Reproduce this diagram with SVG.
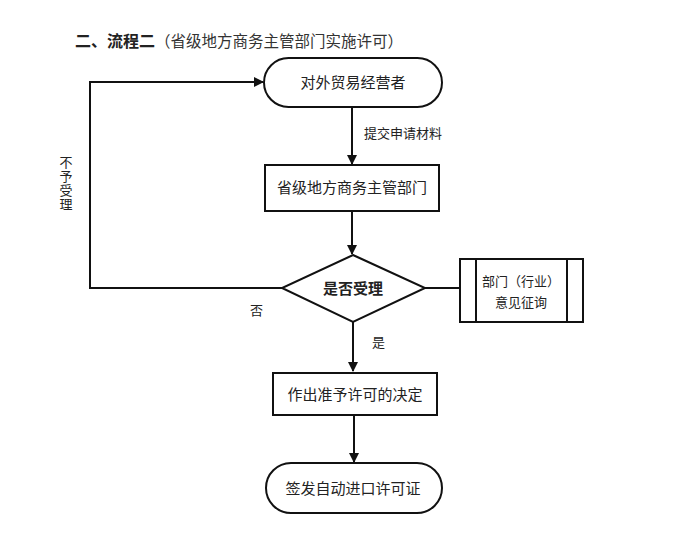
<svg xmlns="http://www.w3.org/2000/svg" width="700" height="540" viewBox="0 0 700 540">
<style>
text{font-family:"Noto Sans CJK SC","Liberation Sans",sans-serif;fill:#222;}
.n{font-size:15px;text-anchor:middle;}
.s{font-size:13px;}
.shape{fill:#fff;stroke:#111;stroke-width:2;}
.line{fill:none;stroke:#111;stroke-width:2;}
</style>
<defs>
<marker id="ah" markerWidth="10" markerHeight="10" refX="9" refY="5" orient="auto" markerUnits="userSpaceOnUse">
<path d="M0,0 L10,5 L0,10 Z" fill="#111"/>
</marker>
</defs>
<rect width="700" height="540" fill="#fff"/>
<text x="75" y="47"><tspan font-weight="bold" style="font-size:16px">二、流程二</tspan><tspan fill="#333" style="font-size:15.5px">（省级地方商务主管部门实施许可）</tspan></text>
<g id="connectors">
<line class="line" x1="352" y1="107" x2="352" y2="164" marker-end="url(#ah)"/>
<line class="line" x1="352" y1="211" x2="352" y2="254" marker-end="url(#ah)"/>
<line class="line" x1="353" y1="322" x2="353" y2="371" marker-end="url(#ah)"/>
<line class="line" x1="354" y1="415" x2="354" y2="462" marker-end="url(#ah)"/>
<polyline class="line" points="282,288 90,288 90,82 263,82" marker-end="url(#ah)"/>
<line class="line" x1="425" y1="288" x2="460" y2="288"/>
<text class="s" x="364" y="138">提交申请材料</text>
<text class="s" x="250" y="315">否</text>
<text class="s" x="372" y="347">是</text>
<text class="s" x="66" y="156" style="writing-mode:vertical-rl;letter-spacing:1px">不予受理</text>
</g>
<g id="start">
<rect class="shape" x="264" y="58" width="178" height="49" rx="24.5"/>
<text class="n" x="353" y="88">对外贸易经营者</text>
</g>
<g id="dept">
<rect class="shape" x="265" y="165" width="174" height="46"/>
<text class="n" x="352" y="193">省级地方商务主管部门</text>
</g>
<g id="decision">
<polygon class="shape" points="353,255 425,288 353,322 282,288"/>
<text class="n" x="353" y="294" font-weight="bold">是否受理</text>
</g>
<g id="consult">
<rect class="shape" x="460" y="259" width="123" height="63"/>
<line class="line" x1="476" y1="259" x2="476" y2="322"/>
<line class="line" x1="567" y1="259" x2="567" y2="322"/>
<text class="s" x="521" y="286" text-anchor="middle" fill="#333">部门（行业）</text>
<text class="s" x="521" y="307" text-anchor="middle" fill="#333">意见征询</text>
</g>
<g id="decide">
<rect class="shape" x="273" y="373" width="164" height="42"/>
<text class="n" x="355" y="400">作出准予许可的决定</text>
</g>
<g id="end">
<rect class="shape" x="266" y="463" width="176" height="50" rx="25"/>
<text class="n" x="353" y="494">签发自动进口许可证</text>
</g>
</svg>
